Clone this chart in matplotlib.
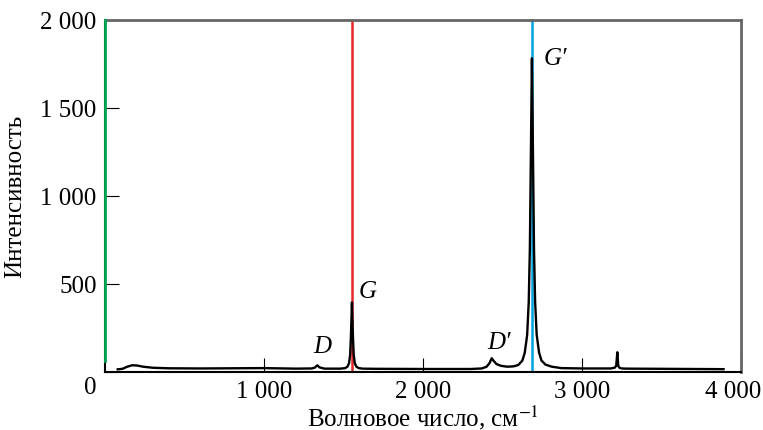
import matplotlib.pyplot as plt
import matplotlib.transforms as mtransforms

plt.rcParams['font.family'] = ['Liberation Serif', 'DejaVu Serif']
plt.rcParams['mathtext.fontset'] = 'stix'

# Спектр: волновое число (см^-1) и интенсивность
wavenumber = [80, 110, 140, 170, 200, 240, 300, 400, 600, 800, 1000, 1200,
              1300, 1320, 1335, 1350, 1380, 1480, 1510, 1525, 1535, 1542,
              1547, 1553, 1559, 1564, 1571, 1581, 1596, 1620, 1700, 2000,
              2300, 2370, 2400, 2418, 2432, 2445, 2462, 2490, 2530, 2570,
              2600, 2625, 2640, 2655, 2665, 2672, 2678, 2685, 2692, 2698,
              2705, 2715, 2730, 2745, 2770, 2810, 2870, 3000, 3180, 3205,
              3215, 3222, 3228, 3235, 3250, 3280, 3500, 3890]
intensity = [15, 18, 30, 38, 37, 30, 24, 21, 20, 21, 22, 19,
             20, 25, 38, 26, 19, 19, 22, 30, 50, 100,
             210, 395, 210, 100, 50, 30, 22, 19, 18, 17,
             17, 20, 30, 50, 78, 62, 45, 35, 30, 32,
             40, 65, 110, 210, 400, 700, 1200, 1780, 1200, 700,
             400, 210, 110, 65, 42, 30, 22, 20, 20, 24,
             35, 112, 35, 24, 20, 19, 18, 16]

# Линии и подписи пиков
line_pos = [1551, 2687]
line_colors = ['#e8282b', '#00a3e0']
peak_names = ['D', 'G', 'D\u2032', 'G\u2032']
peak_x = [1365, 1654, 2478, 2830]
peak_y = [145, 460, 172, 1784]

xticks = [1000, 2000, 3000, 4000]
xtick_labels = ['1 000', '2 000', '3 000', '4 000']
yticks = [0, 500, 1000, 1500, 2000]
ytick_labels = ['0', '500', '1 000', '1 500', '2 000']

fig = plt.figure(figsize=(7.63, 4.31), dpi=100)
ax = fig.add_axes([0.1376, 0.1346, 0.8336, 0.8178])

ax.plot(wavenumber, intensity, color='black', lw=1.7, zorder=3)
for xp, c in zip(line_pos, line_colors):
    ax.axvline(xp, color=c, lw=1.8, zorder=2)
ax.plot([0, 0], [60, 2000], color='#00a651', lw=2, zorder=4, clip_on=False)

for name, xp, yp in zip(peak_names, peak_x, peak_y):
    ax.text(xp, yp, name, fontsize=18, fontstyle='italic', ha='center', va='center')

ax.set_xlim(0, 4000)
ax.set_ylim(0, 2000)
ax.set_xticks(xticks)
ax.set_xticklabels(xtick_labels)
ax.set_yticks(yticks)
ax.set_yticklabels(ytick_labels)
ax.tick_params(direction='in', length=10, width=0.8, labelsize=18, colors='black')
ax.tick_params(axis='x', pad=6)
ax.tick_params(axis='y', pad=6)

# подпись "0" по оси Y опущена ниже, "4 000" сдвинута влево
lbl0 = ax.get_yticklabels()[0]
lbl0.set_transform(lbl0.get_transform() +
                   mtransforms.ScaledTranslation(0, -0.13, fig.dpi_scale_trans))
lbl4 = ax.get_xticklabels()[-1]
lbl4.set_transform(lbl4.get_transform() +
                   mtransforms.ScaledTranslation(-0.08, 0, fig.dpi_scale_trans))

for side in ['top', 'right']:
    ax.spines[side].set_color('#666666')
    ax.spines[side].set_linewidth(2)
ax.spines['bottom'].set_color('black')
ax.spines['bottom'].set_linewidth(1.5)
ax.spines['left'].set_color('black')
ax.spines['left'].set_linewidth(1.5)

ax.set_xlabel('Волновое число, см$^{-1}$', fontsize=18, labelpad=0)
ax.set_ylabel('Интенсивность', fontsize=18, fontstyle='normal', labelpad=10)

fig.savefig('out.png', dpi=100)
